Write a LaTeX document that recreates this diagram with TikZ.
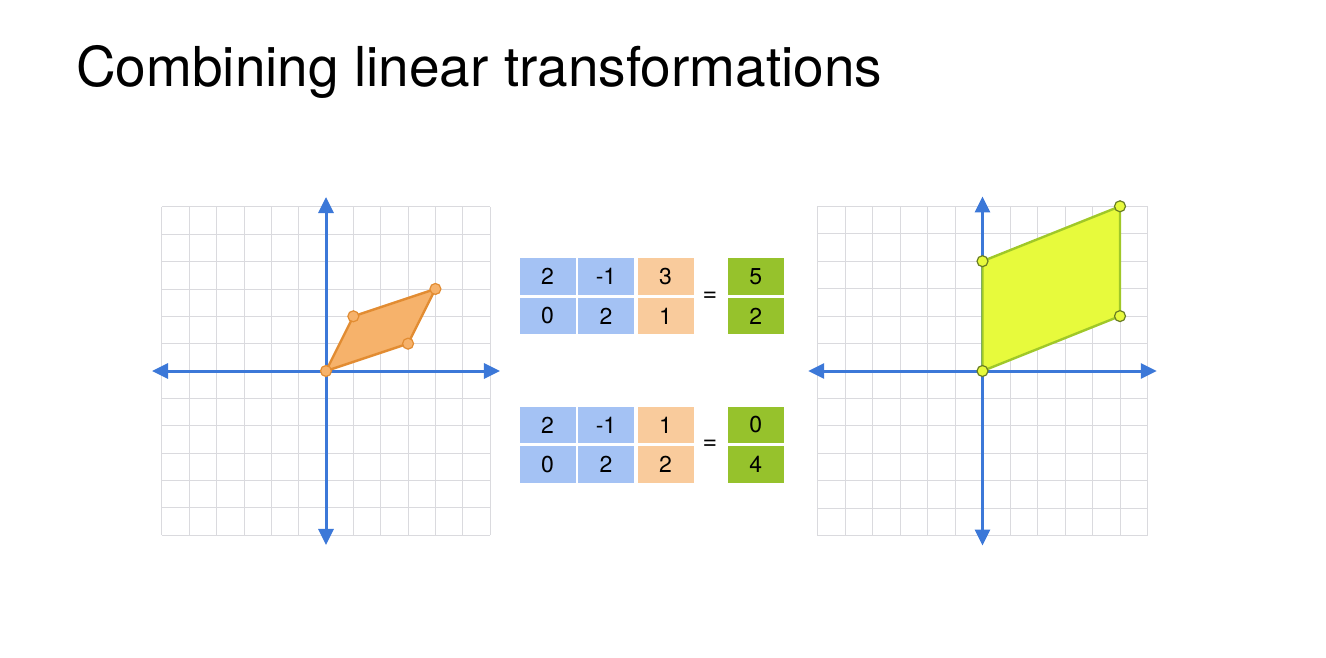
\documentclass[tikz,border=0pt]{standalone}
\usepackage{fontspec}
\setmainfont{TeX Gyre Heros}
\usetikzlibrary{arrows.meta}
\definecolor{axisblue}{RGB}{60,120,216}
\definecolor{gridgray}{RGB}{218,218,222}
\definecolor{cellblue}{RGB}{164,194,244}
\definecolor{cellorange}{RGB}{249,203,156}
\definecolor{cellgreen}{RGB}{150,194,44}
\definecolor{orangefill}{RGB}{246,178,107}
\definecolor{orangeedge}{RGB}{226,140,50}
\definecolor{limefill}{RGB}{231,250,60}
\definecolor{limeedge}{RGB}{160,200,40}
\definecolor{dotedge}{RGB}{105,125,35}

\begin{document}
\begin{tikzpicture}[x=1pt,y=-1pt,
  gridline/.style={draw=gridgray,line width=0.9pt},
  axis/.style={axisblue,line width=3pt,{Triangle[length=16pt,width=15pt]}-{Triangle[length=16pt,width=15pt]}},
  cell/.style={minimum width=56pt,minimum height=36.5pt,inner sep=0pt,font=\fontsize{23}{27}\selectfont},
  eqsign/.style={font=\fontsize{25}{29}\selectfont,inner sep=0pt}]
  \useasboundingbox (0,0) rectangle (1326,658);
  \node[anchor=base west,inner sep=0pt,font=\fontsize{55}{66}\selectfont] (title) at (76,87) {Combining linear transformations};

  % left plane: the original shape
  \begin{scope}[shift={(326,371)},x=27.35pt,y=27.35pt]
    \draw[gridline,step=1] (-6,-6) grid (6,6);
    \draw[axis] (-6.36,0) -- (6.36,0);
    \draw[axis] (0,-6.36) -- (0,6.36);
    \draw[orangeedge,fill=orangefill,line width=2.4pt,line join=round]
      (0,0) coordinate (lo) -- (1,2) coordinate (la) -- (4,3) coordinate (lb) -- (3,1) coordinate (lc) -- cycle;
    \foreach \p in {lo,la,lb,lc}{\filldraw[fill=orangefill,draw=orangeedge,line width=1.2pt] (\p) circle (5.5pt);}
  \end{scope}

  % right plane: after the matrix
  \begin{scope}[shift={(982.5,371)},x=27.5pt,y=27.45pt]
    \draw[gridline,step=1] (-6,-6) grid (6,6);
    \draw[axis] (-6.34,0) -- (6.34,0);
    \draw[axis] (0,-6.36) -- (0,6.36);
    \draw[limeedge,fill=limefill,line width=2.4pt,line join=round]
      (0,0) coordinate (ro) -- (0,4) coordinate (ra) -- (5,6) coordinate (rb) -- (5,2) coordinate (rc) -- cycle;
    \foreach \p in {ro,ra,rb,rc}{\filldraw[fill=limefill,draw=dotedge,line width=1.2pt] (\p) circle (5.5pt);}
  \end{scope}

  % the two products
  \foreach \y/\n/\va/\vb/\ra/\rb in {276.7/t/3/1/5/2, 425/b/1/2/0/4}{
    \node[cell,fill=cellblue] (\n11) at (547.5,\y) {2};
    \node[cell,fill=cellblue] (\n12) at (606,\y) {-1};
    \node[cell,fill=cellblue] (\n21) at (547.5,\y+39.3) {0};
    \node[cell,fill=cellblue] (\n22) at (606,\y+39.3) {2};
    \node[cell,fill=cellorange] (\n v1) at (665.5,\y) {\va};
    \node[cell,fill=cellorange] (\n v2) at (665.5,\y+39.3) {\vb};
    \node[eqsign] (\n eq) at (710,\y+20) {=};
    \node[cell,fill=cellgreen] (\n r1) at (755.7,\y) {\ra};
    \node[cell,fill=cellgreen] (\n r2) at (755.7,\y+39.3) {\rb};
  }
\end{tikzpicture}
\end{document}
